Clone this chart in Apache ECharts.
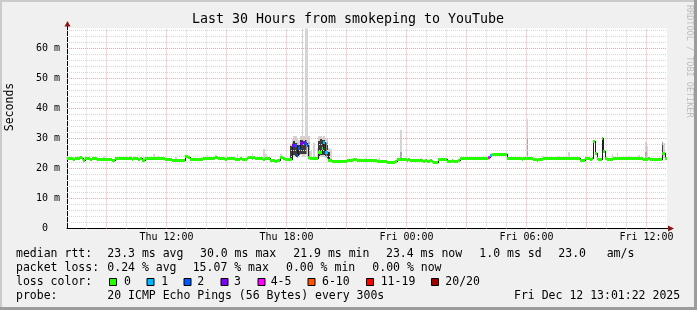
<!DOCTYPE html>
<html><head><meta charset="utf-8">
<script src="https://cdn.jsdelivr.net/npm/echarts@6/dist/echarts.min.js"></script>
<style>html,body{margin:0;padding:0;background:#f0f0f0}#c{width:697px;height:310px}</style>
</head><body><div id="c"></div>
<script>
// ---- data (minutes after Thu 00:00) ----
const binStart = 420;           // start of first 5-min bin
const stepMin = 5;
const viewStart = 421 + 22/60;  // Thu 07:01:22
const viewEnd = viewStart + 30*60;
const yMax = 66.67;

const median = [
23.2,23.2,23.3,23.2,23.1,23.2,23.5,23.5,23.6,23.4,
22.8,23.2,23.2,23.3,23.1,23.2,23.2,23.5,23.0,23.0,
23.1,22.9,23.0,23.1,23.0,22.9,23.0,22.7,22.7,23.4,
23.4,23.5,23.4,23.3,23.4,23.4,23.5,23.2,23.2,23.1,
23.2,23.2,23.3,23.1,23.2,22.8,22.8,23.4,23.4,23.5,
23.4,23.3,23.4,23.4,23.5,23.3,23.4,23.4,23.4,23.0,
23.0,23.1,23.0,22.8,22.7,22.7,22.8,22.7,22.7,22.8,
22.7,24.0,24.0,23.6,22.9,22.9,23.0,22.9,22.9,23.0,
22.9,22.9,23.4,23.4,23.5,23.4,23.4,23.3,23.4,23.8,
23.7,23.2,23.2,23.3,23.2,23.1,23.2,23.2,23.3,23.2,
23.2,23.1,23.0,23.1,23.2,23.1,23.0,23.1,23.2,23.6,
23.6,23.5,23.6,23.2,23.2,23.3,23.2,23.2,23.1,23.2,
23.2,23.2,22.8,22.7,22.7,22.5,22.6,22.8,23.6,23.6,
23.5,23.0,23.0,23.0,23.1,27.7,27.6,27.7,24.3,26.6,
28.4,28.4,28.6,28.5,27.7,23.8,23.2,23.2,23.3,23.2,
23.2,25.4,25.4,26.6,28.8,25.4,25.3,22.7,22.6,22.4,
22.3,22.3,22.3,22.4,22.3,22.3,22.3,22.4,22.7,22.7,
22.7,22.7,23.1,23.1,22.7,22.7,22.6,22.7,22.7,22.7,
22.6,22.7,22.7,22.6,22.7,22.7,22.3,22.3,22.3,22.4,
22.3,22.3,22.1,22.0,22.1,21.9,22.1,22.2,22.9,22.9,
22.9,23.0,22.9,22.9,22.8,22.9,22.7,22.7,22.7,22.6,
22.7,22.7,22.6,22.7,22.5,22.6,22.5,22.5,22.6,22.5,
22.1,22.1,22.1,22.9,22.9,22.9,23.0,22.9,22.5,22.5,
22.5,22.6,22.5,22.5,22.5,22.6,23.4,23.4,23.4,23.3,
23.4,23.4,23.5,23.4,23.4,23.3,23.4,23.4,23.4,23.5,
23.4,23.4,23.4,23.6,24.2,24.7,24.7,24.6,24.7,24.7,
24.8,24.7,24.7,24.7,23.4,23.4,23.4,23.3,23.4,23.3,
23.2,23.3,23.2,23.1,23.2,23.3,23.2,23.3,23.2,23.2,
22.9,22.9,22.8,22.9,22.9,22.9,23.4,23.4,23.4,23.5,
23.4,23.4,23.3,23.4,23.4,23.4,23.4,23.3,23.4,23.4,
23.2,23.2,23.2,23.3,23.2,23.2,23.2,23.2,22.7,22.7,
22.7,23.2,23.2,23.2,23.1,23.2,29.1,25.1,23.2,23.0,
23.1,30.1,25.8,23.2,23.0,23.0,23.0,23.0,23.4,23.4,
23.4,23.4,23.5,23.4,23.4,23.4,23.4,23.3,23.4,23.4,
23.2,23.2,23.3,23.2,23.2,23.2,23.1,23.1,23.1,23.2,
23.1,23.1,23.1,23.0,23.1,23.1,23.1,24.9,24.9,23.4
];

// [bin index, lost pings of 20]
const lossEvents = [[135,3],[136,3],[137,2],[138,2],[139,2],[140,3],[141,3],[142,3],[143,2],[144,2],
  [154,1],[155,1],[156,1],[253,4],[254,1]];

// smoke [bin index, low ms, high ms]
const smokeLight = [
[7,23.0,24.3],[22,22.8,24.2],[38,23.0,24.3],[46,22.6,24.0],[52,23.2,24.9],[55,23.1,24.3],[65,22.5,23.8],
[72,23.5,24.6],[84,23.2,24.4],[89,23.5,24.5],[102,22.9,24.9],[111,23.3,25.1],[118,23.0,26.5],[119,23.0,25.0],
[128,23.4,24.7],[134,22.9,28.2],[135,24.0,29.9],[136,24.0,31.0],[137,23.8,31.0],[138,23.5,30.0],[139,24.0,29.5],
[140,24.5,31.0],[141,24.0,70],[142,24.0,31.0],[143,24.5,70],[144,24.0,70],[145,23.0,31.0],[146,23.0,26.0],
[148,23.0,28.4],[150,23.0,27.0],[151,23.5,31.0],[152,23.8,31.0],[153,24.0,30.5],[154,24.0,31.0],[155,23.5,30.2],
[156,23.2,30.2],[157,22.5,27.0],[158,22.4,26.6],[179,22.5,23.6],[187,22.1,23.4],[200,22.7,33.0],[212,22.4,23.5],
[253,22.7,24.3],[276,23.0,36.6],[285,22.7,24.3],[295,23.2,24.3],[301,23.0,25.4],[321,23.5,30.1],[327,22.8,24.7],
[330,23.2,25.1],[337,23.2,24.3],[343,23.0,24.6],[347,23.0,28.8],[348,23.0,27.5],[357,24.0,29.3],[358,23.5,28.5]
];
const smokeMid = [[200,22.7,25.5],[276,23.0,30.0],[347,23.0,25.5],[357,24.0,29.0],[135,24.2,29.0],[138,23.6,28.5],
  [145,23.2,29.0],[156,23.3,29.0]];
const smokeDark = [[134,23.0,27.5],[135,24.5,28.2],[136,24.5,29.3],[137,24.0,28.5],[139,24.5,28.0],[140,25.0,29.5],
  [141,25.0,29.5],[142,25.0,29.0],[143,25.0,29.5],[151,24.0,29.3],[152,24.5,30.0],[153,24.5,29.5],[154,24.5,29.5],
  [155,24.0,28.5],[156,23.5,28.0],[157,23.0,25.5],[321,23.5,30.1],[357,24.5,28.0]];

const xLabelTimes = [720, 1080, 1440, 1800, 2160];
const xLabelText = ['Thu 12:00','Thu 18:00','Fri 00:00','Fri 06:00','Fri 12:00'];
const yTicks = [0,10,20,30,40,50,60];
const lossLabels = ['0','1','2','3','4-5','6-10','11-19','20/20'];
const lossUpper  = [0,1,2,3,5,10,19,20];
const lossColors = ['#26ff00','#00b8ff','#0059ff','#7e00ff','#ff00ff','#ff5500','#ff0000','#a00000'];

// ---- build ----
const MONO = '"DejaVu Sans Mono", monospace';
const lossAt = median.map(() => 0);
lossEvents.forEach(([i, c]) => { lossAt[i] = c; });
const tEnd = i => binStart + stepMin * (i + 1);
function lossColor(c) { for (let k = 0; k < lossUpper.length; k++) if (c <= lossUpper[k]) return lossColors[k]; return lossColors[lossColors.length-1]; }

function clipTo(params, r) {
  const cs = params.coordSys;
  return echarts.graphic.clipRectByRect(r, {x: cs.x, y: cs.y, width: cs.width, height: cs.height});
}
function smokeSeries(list, color, z) {
  return {
    type: 'custom', z: z, silent: true, animation: false,
    data: list.map(([i, lo, hi]) => [tEnd(i), lo, hi]),
    renderItem: (params, api) => {
      const t = api.value(0);
      const a = api.coord([t - stepMin, api.value(2)]);
      const b = api.coord([t, api.value(1)]);
      const x0 = Math.round(a[0]), x1 = Math.round(b[0]);
      const y0 = Math.round(a[1]), y1 = Math.round(b[1]);
      const r = clipTo(params, {x: x0, y: y0, width: x1 - x0, height: y1 - y0});
      return r && {type: 'rect', shape: r, style: {fill: color}};
    }
  };
}

// grid lines
const MAJOR = '#eeaaaa', MINOR = '#d6d6d6';
const gridLines = [];
for (let m = 480; m <= 2160; m += 60) {
  const major = (m / 60) % 3 === 0;
  gridLines.push({xAxis: m, lineStyle: {color: major ? MAJOR : MINOR, type: [1, 1], width: 1}});
}
for (let v = 2; v < yMax; v += 2) {
  const major = v % 10 === 0;
  gridLines.push({yAxis: v, lineStyle: {color: major ? MAJOR : MINOR, type: [1, 1], width: 1}});
}

const lineData = median.map((v, i) => [tEnd(i), v, i === 0 ? v : median[i - 1]]);
const bandData = median.map((v, i) => [tEnd(i), v, lossAt[i]]);

const text = (x, y, s, opt) => Object.assign({type: 'text', x: x, y: y, silent: true,
  style: Object.assign({text: s, fontFamily: MONO, fontSize: 11.5, fill: '#000', verticalAlign: 'middle', align: 'left'}, (opt || {}).style || {})},
  opt && opt.rotation !== undefined ? {rotation: opt.rotation} : {});

const graphics = [
  {type: 'rect', shape: {x: 0, y: 0, width: 697, height: 2}, style: {fill: '#cbcbcb'}, silent: true},
  {type: 'rect', shape: {x: 0, y: 0, width: 2, height: 310}, style: {fill: '#cbcbcb'}, silent: true},
  {type: 'rect', shape: {x: 694, y: 0, width: 3, height: 310}, style: {fill: '#9c9c9c'}, silent: true},
  {type: 'rect', shape: {x: 0, y: 307, width: 697, height: 3}, style: {fill: '#9c9c9c'}, silent: true},
  // axis extensions and arrows
  {type: 'line', shape: {x1: 67.5, y1: 28.5, x2: 67.5, y2: 25}, style: {stroke: '#000', lineWidth: 1}, silent: true},
  {type: 'polygon', shape: {points: [[64.5, 26.5], [70.5, 26.5], [67.5, 21]]}, style: {fill: '#8b1414'}, silent: true},
  {type: 'line', shape: {x1: 667, y1: 228.5, x2: 669, y2: 228.5}, style: {stroke: '#000', lineWidth: 1}, silent: true},
  {type: 'polygon', shape: {points: [[668, 225.5], [668, 231.5], [674, 228.5]]}, style: {fill: '#8b1414'}, silent: true},
  text(348, 20, 'Last 30 Hours from smokeping to YouTube', {style: {fontSize: 13.3, align: 'center'}}),
  text(10, 107, 'Seconds', {rotation: Math.PI / 2, style: {align: 'center'}}),
  text(689, 5, 'RRDTOOL / TOBI OETIKER', {rotation: -Math.PI / 2, style: {fontSize: 8.5, fill: '#bcbcbc', verticalAlign: 'middle'}}),
  text(16, 254.5, 'median rtt:'),
  text(107.3, 254.5, '23.3 ms avg'),
  text(200, 254.5, '30.0 ms max'),
  text(293.3, 254.5, '21.9 ms min'),
  text(386, 254.5, '23.4 ms now'),
  text(479.3, 254.5, '1.0 ms sd'),
  text(558.3, 254.5, '23.0'),
  text(606.7, 254.5, 'am/s'),
  text(16, 268.5, 'packet loss:'),
  text(107.3, 268.5, '0.24 % avg'),
  text(192.7, 268.5, '15.07 % max'),
  text(286, 268.5, '0.00 % min'),
  text(372.3, 268.5, '0.00 % now'),
  text(16, 282.5, 'loss color:'),
  text(16, 296.5, 'probe:'),
  text(107.3, 296.5, '20 ICMP Echo Pings (56 Bytes) every 300s'),
  text(514, 296.5, 'Fri Dec 12 13:01:22 2025')
];
const boxX = [109, 146.5, 183.5, 220.5, 257.5, 307.5, 366, 431];
const lblX = [124, 161.3, 197.3, 234, 270.7, 322, 380.7, 445.3];
lossLabels.forEach((l, k) => {
  graphics.push({type: 'rect', shape: {x: boxX[k] + 0.5, y: 278.5, width: 7, height: 7}, style: {fill: lossColors[k], stroke: '#000', lineWidth: 1}, silent: true});
  graphics.push(text(lblX[k], 282.5, l));
});

const chart = echarts.init(document.getElementById('c'), null, {renderer: 'canvas', width: 697, height: 310});
chart.setOption({
  animation: false,
  backgroundColor: '#f0f0f0',
  grid: {left: 67, top: 28.5, width: 600, height: 200, show: true, backgroundColor: '#ffffff', borderWidth: 0},
  xAxis: {
    type: 'value', min: viewStart, max: viewEnd,
    axisLine: {show: true, lineStyle: {color: '#000', width: 1}},
    axisTick: {show: false}, splitLine: {show: false},
    axisLabel: {customValues: xLabelTimes, formatter: v => { const k = xLabelTimes.indexOf(Math.round(v)); return k >= 0 ? xLabelText[k] : ''; },
      fontFamily: MONO, fontSize: 10, color: '#000', margin: 4}
  },
  yAxis: {
    type: 'value', min: 0, max: yMax,
    axisLine: {show: true, lineStyle: {color: '#000', width: 1}},
    axisTick: {show: false}, splitLine: {show: false},
    axisLabel: {customValues: yTicks, formatter: v => v === 0 ? '0  ' : Math.round(v) + ' m',
      fontFamily: MONO, fontSize: 10, color: '#000', margin: 7}
  },
  graphic: graphics,
  series: [
    {type: 'line', z: 1, data: [], silent: true,
     markLine: {silent: true, symbol: ['none', 'none'], label: {show: false}, animation: false, data: gridLines}},
    smokeSeries(smokeLight, '#d4d4d4', 2),
    smokeSeries(smokeMid, '#a8a8a8', 3),
    smokeSeries(smokeDark, '#3c3c3c', 4),
    {type: 'custom', z: 5, silent: true, animation: false, data: lineData,
     renderItem: (params, api) => {
       const t = api.value(0);
       const a = api.coord([t - stepMin, api.value(1)]);
       const b = api.coord([t, api.value(1)]);
       const p = api.coord([t - stepMin, api.value(2)]);
       const x0 = Math.round(a[0]), x1 = Math.round(b[0]);
       const yc = Math.floor(a[1]), yp = Math.floor(p[1]);
       const kids = [];
       const h = clipTo(params, {x: x0, y: yc, width: x1 - x0, height: 1});
       if (h) kids.push({type: 'rect', shape: h, style: {fill: '#202020'}});
       const top = Math.min(yc, yp), bot = Math.max(yc, yp);
       const vr = clipTo(params, {x: x0, y: top, width: 1, height: bot - top + 1});
       if (vr) kids.push({type: 'rect', shape: vr, style: {fill: '#202020'}});
       return {type: 'group', children: kids};
     }},
    {type: 'custom', z: 6, silent: true, animation: false, data: bandData,
     renderItem: (params, api) => {
       const t = api.value(0);
       const a = api.coord([t - stepMin, api.value(1)]);
       const b = api.coord([t, api.value(1)]);
       const x0 = Math.round(a[0]), x1 = Math.round(b[0]);
       const yc = Math.floor(a[1]);
       const r = clipTo(params, {x: x0, y: yc - 1, width: x1 - x0, height: 3});
       return r && {type: 'rect', shape: r, style: {fill: lossColor(api.value(2))}};
     }}
  ]
});
</script>
</body></html>
